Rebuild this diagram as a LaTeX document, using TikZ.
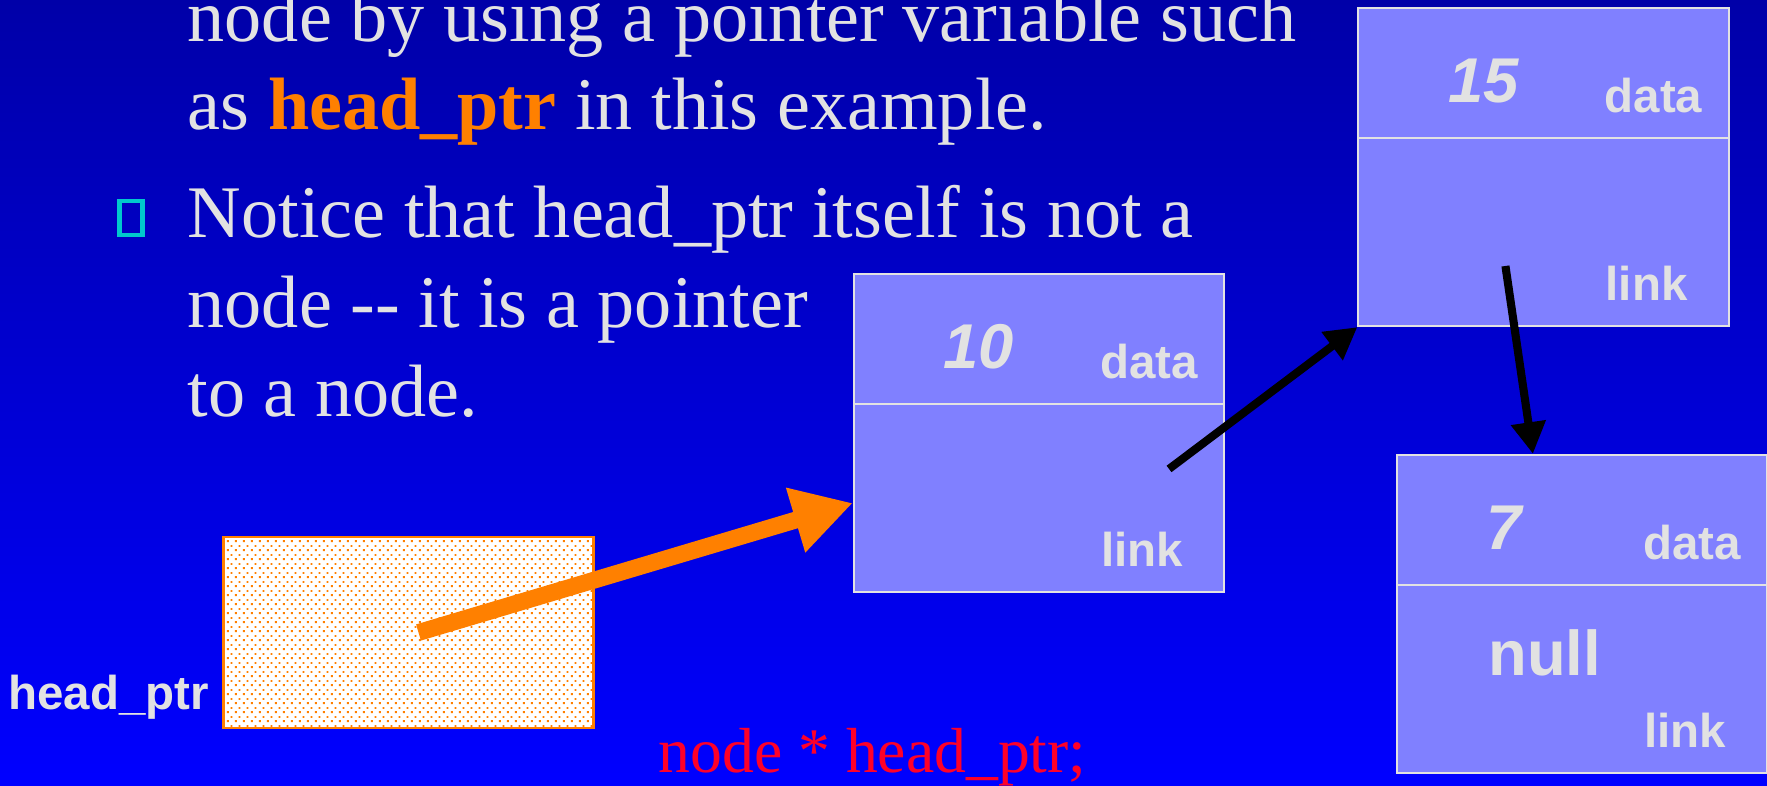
\documentclass[tikz,border=0pt]{standalone}
\usepackage{fontspec}
\setmainfont{Liberation Serif}
\setsansfont{Liberation Sans}
\usetikzlibrary{arrows.meta, positioning, patterns}

\definecolor{bgtop}{RGB}{0,0,168}
\definecolor{bgbottom}{RGB}{0,0,255}
\definecolor{txtgray}{RGB}{226,226,226}
\definecolor{cellblue}{RGB}{128,128,255}
\definecolor{ptrorange}{RGB}{255,128,0}
\definecolor{declred}{RGB}{255,0,40}
\definecolor{bulletcyan}{RGB}{0,200,205}

\pgfdeclarepatternformonly{finedots}{\pgfpointorigin}{\pgfqpoint{2.3pt}{2.56pt}}{\pgfqpoint{2.3pt}{2.56pt}}{%
  \pgfpathrectangle{\pgfqpoint{0.3pt}{0.3pt}}{\pgfqpoint{0.57pt}{0.57pt}}%
  \pgfpathrectangle{\pgfqpoint{1.45pt}{1.58pt}}{\pgfqpoint{0.57pt}{0.57pt}}%
  \pgfusepath{fill}}

\begin{document}
\begin{tikzpicture}[
        x=0.01cm, y=-0.01cm,
        bodytext/.style={anchor=base west, inner sep=0pt, text=txtgray, font=\fontsize{21.1}{25}\selectfont},
        cell/.style={rectangle, draw=txtgray, line width=0.6pt, fill=cellblue, minimum width=3.7cm, minimum height=3.18cm, inner sep=0pt},
        divider/.style={draw=txtgray, line width=0.6pt},
        fld/.style={anchor=base, inner sep=0pt, text=txtgray, font=\sffamily\bfseries\fontsize{13.5}{16}\selectfont},
        val/.style={anchor=base west, inner sep=0pt, text=txtgray, font=\sffamily\bfseries\itshape\fontsize{18}{21}\selectfont},
        ptr/.style={-{Triangle[length=9pt, width=9.5pt]}, line width=2.3pt, draw=black},
        headarrow/.style={-{Triangle[length=17pt, width=18pt]}, line width=4.8pt, draw=ptrorange},
        headbox/.style={rectangle, draw=ptrorange, line width=0.8pt, minimum width=3.69cm, minimum height=1.91cm, inner sep=0pt}
    ]
        \clip (0,0) rectangle (1767,786);
        \shade[top color=bgtop, bottom color=bgbottom] (0,0) rectangle (1767,786);

        % bullet text
        \node[bodytext] (l1) at (187,42) {node by using a pointer variable such};
        \node[bodytext] (l2) at (187,130) {as \textcolor{ptrorange}{\textbf{head\_ptr}} in this example.};
        \draw[bulletcyan, line width=1.3pt] (119.5,201) rectangle (142.5,235);
        \node[bodytext] (l3) at (187,238) {Notice that head\_ptr itself is not a};
        \node[bodytext] (l4) at (187,328) {node -{}- it is a pointer};
        \node[bodytext] (l5) at (187,417) {to a node.};

        % the pointer variable
        \node[headbox, preaction={fill=white}, pattern=finedots, pattern color=ptrorange] (hp) at (408.5,632.5) {};
        \node[fld, anchor=base east] (hplabel) at ([xshift=-0.13cm, yshift=0.2cm]hp.south west) {head\_ptr};
        \node[anchor=base west, inner sep=0pt, text=declred, font=\fontsize{18.1}{21}\selectfont] (decl) at (658,773) {node * head\_ptr;};

        % list cells
        \node[cell] (n10) at (1039,433) {};
        \draw[divider] ([yshift=-1.31cm]n10.north west) -- ([yshift=-1.31cm]n10.north east);
        \node[val] at ([xshift=0.9cm, yshift=-0.96cm]n10.north west) {10};
        \node[fld] at ([xshift=2.96cm, yshift=-1.06cm]n10.north west) {data};
        \node[fld] at ([xshift=2.89cm, yshift=-2.93cm]n10.north west) {link};

        \node[cell] (n15) at (1543.5,167) {};
        \draw[divider] ([yshift=-1.31cm]n15.north west) -- ([yshift=-1.31cm]n15.north east);
        \node[val] at ([xshift=0.9cm, yshift=-0.96cm]n15.north west) {15};
        \node[fld] at ([xshift=2.96cm, yshift=-1.06cm]n15.north west) {data};
        \node[fld] at ([xshift=2.89cm, yshift=-2.93cm]n15.north west) {link};

        \node[cell] (n7) at (1582,614) {};
        \draw[divider] ([yshift=-1.31cm]n7.north west) -- ([yshift=-1.31cm]n7.north east);
        \node[val] at ([xshift=0.9cm, yshift=-0.96cm]n7.north west) {7};
        \node[fld] at ([xshift=2.96cm, yshift=-1.06cm]n7.north west) {data};
        \node[val, font=\sffamily\bfseries\fontsize{18}{21}\selectfont] at ([xshift=0.92cm, yshift=-2.22cm]n7.north west) {null};
        \node[fld] at ([xshift=2.89cm, yshift=-2.93cm]n7.north west) {link};

        % pointers
        \coordinate (hpstart) at ([xshift=0.1cm]hp.center);
        \coordinate (l10) at ([xshift=3.16cm, yshift=-1.96cm]n10.north west);
        \coordinate (l15) at ([xshift=1.48cm, yshift=-2.59cm]n15.north west);
        \draw[headarrow] (hpstart) -- ([yshift=-0.7cm]n10.west);
        \draw[ptr] (l10) -- (n15.south west);
        \draw[ptr] (l15) -- ([xshift=1.37cm]n7.north west);
    \end{tikzpicture}
\end{document}
